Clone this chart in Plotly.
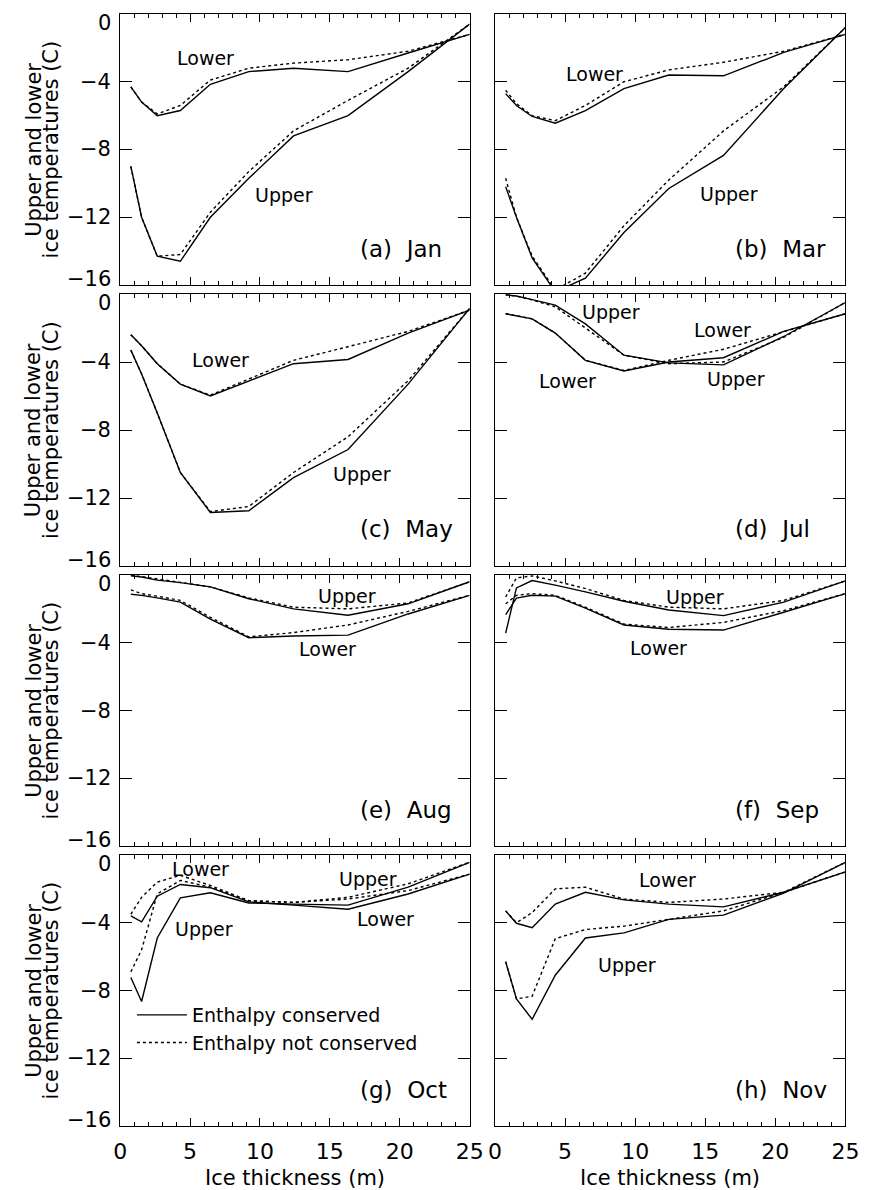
import plotly.graph_objects as go

# ---------------- data ----------------
THICK = [0.76, 1.53, 2.65, 4.3, 6.45, 9.2, 12.4, 16.3, 20.6, 25.0]

PANELS = ["(a)", "(b)", "(c)", "(d)", "(e)", "(f)", "(g)", "(h)"]
MONTHS = ["Jan", "Mar", "May", "Jul", "Aug", "Sep", "Oct", "Nov"]

# upper / lower ice temperatures (C); cons = enthalpy conserved, nocons = not conserved
JAN_UPPER_CONS   = [-9.0, -12.0, -14.3, -14.6, -12.0, -9.7, -7.2, -6.0, -3.4, -0.6]
JAN_UPPER_NOCONS = [-9.0, -12.0, -14.3, -14.2, -11.7, -9.3, -6.9, -5.1, -3.2, -0.6]
JAN_LOWER_CONS   = [-4.3, -5.2, -6.0, -5.7, -4.15, -3.4, -3.2, -3.4, -2.3, -1.2]
JAN_LOWER_NOCONS = [-4.3, -5.2, -5.9, -5.4, -3.9, -3.2, -2.9, -2.7, -2.2, -1.2]

MAR_UPPER_CONS   = [-10.2, -12.0, -14.4, -16.4, -15.6, -12.9, -10.3, -8.35, -4.4, -0.8]
MAR_UPPER_NOCONS = [-9.7, -12.0, -14.3, -16.3, -15.3, -12.5, -9.8, -6.9, -4.3, -0.8]
MAR_LOWER_CONS   = [-4.7, -5.4, -6.05, -6.45, -5.7, -4.4, -3.6, -3.65, -2.27, -1.2]
MAR_LOWER_NOCONS = [-4.5, -5.3, -6.0, -6.3, -5.4, -4.0, -3.3, -2.85, -2.2, -1.2]

MAY_UPPER_CONS   = [-3.3, -4.7, -7.0, -10.5, -12.85, -12.75, -10.8, -9.15, -5.3, -0.85]
MAY_UPPER_NOCONS = [-3.3, -4.7, -7.0, -10.5, -12.8, -12.5, -10.5, -8.4, -5.1, -0.85]
MAY_LOWER_CONS   = [-2.4, -3.05, -4.1, -5.3, -6.0, -5.1, -4.1, -3.85, -2.3, -0.95]
MAY_LOWER_NOCONS = [-2.4, -3.05, -4.1, -5.3, -5.95, -5.0, -3.9, -3.1, -2.2, -0.95]

JUL_UPPER_CONS   = [-0.05, -0.12, -0.33, -0.65, -1.76, -3.6, -4.05, -4.17, -2.5, -0.5]
JUL_UPPER_NOCONS = [-0.05, -0.12, -0.35, -0.75, -2.0, -3.6, -4.1, -4.0, -2.55, -0.5]
JUL_LOWER_CONS   = [-1.16, -1.3, -1.46, -2.3, -3.9, -4.53, -4.0, -3.75, -2.2, -1.16]
JUL_LOWER_NOCONS = [-1.16, -1.3, -1.46, -2.3, -3.9, -4.5, -3.9, -3.25, -2.2, -1.16]

AUG_UPPER_CONS   = [-0.05, -0.12, -0.3, -0.45, -0.7, -1.4, -2.0, -2.38, -1.7, -0.4]
AUG_UPPER_NOCONS = [0.0, -0.1, -0.25, -0.45, -0.7, -1.35, -1.9, -2.0, -1.65, -0.4]
AUG_LOWER_CONS   = [-1.14, -1.2, -1.35, -1.6, -2.6, -3.7, -3.6, -3.55, -2.3, -1.2]
AUG_LOWER_NOCONS = [-0.88, -1.1, -1.25, -1.5, -2.5, -3.65, -3.4, -2.95, -2.15, -1.2]

SEP_UPPER_CONS   = [-3.43, -0.76, -0.33, -0.6, -1.0, -1.55, -2.07, -2.4, -1.6, -0.35]
SEP_UPPER_NOCONS = [-1.3, -0.17, -0.05, -0.35, -0.8, -1.5, -1.9, -2.0, -1.5, -0.35]
SEP_LOWER_CONS   = [-2.34, -1.36, -1.2, -1.25, -1.95, -2.95, -3.2, -3.25, -2.2, -1.1]
SEP_LOWER_NOCONS = [-1.7, -1.2, -1.1, -1.2, -1.9, -2.9, -3.1, -2.8, -2.1, -1.1]

OCT_UPPER_CONS   = [-7.23, -8.65, -4.9, -2.53, -2.23, -2.83, -2.9, -2.96, -1.9, -0.43]
OCT_UPPER_NOCONS = [-6.9, -5.6, -2.3, -1.5, -1.9, -2.7, -2.8, -2.5, -1.7, -0.43]
OCT_LOWER_CONS   = [-3.6, -3.95, -2.43, -1.74, -1.93, -2.77, -2.96, -3.2, -2.3, -1.13]
OCT_LOWER_NOCONS = [-3.5, -2.5, -1.6, -1.2, -1.8, -2.7, -2.8, -2.6, -2.1, -1.13]

NOV_UPPER_CONS   = [-6.3, -8.5, -9.7, -7.1, -4.9, -4.6, -3.8, -3.55, -2.25, -0.43]
NOV_UPPER_NOCONS = [-6.3, -8.5, -8.34, -4.94, -4.4, -4.2, -3.8, -3.3, -2.2, -0.43]
NOV_LOWER_CONS   = [-3.3, -4.03, -4.29, -2.9, -2.2, -2.65, -2.9, -3.06, -2.2, -1.0]
NOV_LOWER_NOCONS = [-3.3, -4.0, -3.4, -2.0, -1.9, -2.6, -2.8, -2.6, -2.2, -1.0]

SERIES = [
    (JAN_UPPER_CONS, JAN_UPPER_NOCONS, JAN_LOWER_CONS, JAN_LOWER_NOCONS),
    (MAR_UPPER_CONS, MAR_UPPER_NOCONS, MAR_LOWER_CONS, MAR_LOWER_NOCONS),
    (MAY_UPPER_CONS, MAY_UPPER_NOCONS, MAY_LOWER_CONS, MAY_LOWER_NOCONS),
    (JUL_UPPER_CONS, JUL_UPPER_NOCONS, JUL_LOWER_CONS, JUL_LOWER_NOCONS),
    (AUG_UPPER_CONS, AUG_UPPER_NOCONS, AUG_LOWER_CONS, AUG_LOWER_NOCONS),
    (SEP_UPPER_CONS, SEP_UPPER_NOCONS, SEP_LOWER_CONS, SEP_LOWER_NOCONS),
    (OCT_UPPER_CONS, OCT_UPPER_NOCONS, OCT_LOWER_CONS, OCT_LOWER_NOCONS),
    (NOV_UPPER_CONS, NOV_UPPER_NOCONS, NOV_LOWER_CONS, NOV_LOWER_NOCONS),
]

LEGEND_NAMES = ["Enthalpy conserved", "Enthalpy not conserved"]
Y_TICKS = [-16, -12, -8, -4, 0]
Y_TICK_TEXT = ["\u221216", "\u221212", "\u22128", "\u22124", "0"]
X_TICKS = [0, 5, 10, 15, 20, 25]

# ---------------- layout helpers ----------------
W, H = 876, 1190
ROWS_PX = [(14, 285), (294, 566), (575, 846), (855, 1126)]
COLS_PX = [(116, 474), (500, 859)]
# vertical nudges (px) of the end y tick labels, as in the original layout
Y_LABEL_SHIFT = {0: -9, -16: 6}

# curve label annotations per panel: (text, x, y) in data units
CURVE_LABELS = [
    [("Lower", 6.1, -2.6), ("Upper", 11.7, -10.7)],
    [("Lower", 7.1, -3.55), ("Upper", 16.7, -10.6)],
    [("Lower", 7.2, -3.9), ("Upper", 17.3, -10.6)],
    [("Upper", 8.25, -1.05), ("Lower", 16.25, -2.1), ("Lower", 5.2, -5.1), ("Upper", 17.2, -5.0)],
    [("Upper", 16.2, -1.25), ("Lower", 14.8, -4.35)],
    [("Upper", 14.3, -1.27), ("Lower", 11.7, -4.3)],
    [("Lower", 5.75, -0.8), ("Upper", 17.75, -1.4), ("Upper", 6.0, -4.35), ("Lower", 19.0, -3.8)],
    [("Lower", 12.3, -1.45), ("Upper", 9.4, -6.5)],
]

FONT = "DejaVu Sans"
fig = go.Figure()
annotations = []

for i in range(8):
    r, c = divmod(i, 2)
    n = i + 1
    xa = "x" if n == 1 else f"x{n}"
    ya = "y" if n == 1 else f"y{n}"
    up_c, up_n, lo_c, lo_n = SERIES[i]
    for vals, dash, name in [(up_c, "solid", LEGEND_NAMES[0]), (up_n, "dot", LEGEND_NAMES[1]),
                              (lo_c, "solid", LEGEND_NAMES[0]), (lo_n, "dot", LEGEND_NAMES[1])]:
        fig.add_trace(go.Scatter(
            x=THICK, y=vals, mode="lines", xaxis=xa, yaxis=ya,
            line=dict(color="black", width=1.4, dash=dash),
            name=name, showlegend=False, hoverinfo="skip"))

    x0, x1 = COLS_PX[c]
    t, b = ROWS_PX[r]
    common = dict(showline=True, linecolor="black", linewidth=1.2, mirror="allticks",
                  ticks="inside", tickcolor="black", tickwidth=1.1, showgrid=False,
                  zeroline=False, tickfont=dict(family=FONT, size=22, color="black"))
    xk = "xaxis" if n == 1 else f"xaxis{n}"
    yk = "yaxis" if n == 1 else f"yaxis{n}"
    fig.layout[xk] = dict(
        domain=[x0 / W, x1 / W], anchor=ya, range=[0, 25],
        tickvals=X_TICKS, ticklen=8, showticklabels=(r == 3),
        ticklabelstandoff=5,
        minor=dict(dtick=1, ticklen=4, ticks="inside", tickcolor="black", tickwidth=1, showgrid=False),
        **common)
    fig.layout[yk] = dict(
        domain=[1 - b / H, 1 - t / H], anchor=xa, range=[-16, 0],
        tickvals=Y_TICKS, ticklen=12, showticklabels=False,
        **common)

    if c == 0:
        for v, tt in zip(Y_TICKS, Y_TICK_TEXT):
            annotations.append(dict(text=tt, x=109 / W, y=v, xref="paper", yref=ya,
                                    showarrow=False, xanchor="right", yanchor="middle",
                                    yshift=Y_LABEL_SHIFT.get(v, 0),
                                    font=dict(family=FONT, size=21, color="black")))

    for txt, lx, ly in CURVE_LABELS[i]:
        annotations.append(dict(text=txt, x=lx, y=ly, xref=xa, yref=ya, showarrow=False,
                                font=dict(family=FONT, size=19, color="black"),
                                xanchor="center", yanchor="middle"))
    annotations.append(dict(text=f"{PANELS[i]}\u00a0\u00a0{MONTHS[i]}", x=17.0, y=-13.85,
                            xref=xa, yref=ya, showarrow=False,
                            font=dict(family=FONT, size=23, color="black"),
                            xanchor="left", yanchor="middle"))

    if c == 0:
        yc = 1 - (t + b) / 2 / H
        annotations.append(dict(text="Upper and lower", x=27 / W, y=yc, xref="paper", yref="paper",
                                textangle=-90, showarrow=False, xanchor="center", yanchor="middle",
                                font=dict(family=FONT, size=21, color="black")))
        annotations.append(dict(text="ice temperatures (C)", x=45 / W, y=yc, xref="paper", yref="paper",
                                textangle=-90, showarrow=False, xanchor="center", yanchor="middle",
                                font=dict(family=FONT, size=21, color="black")))

# legend entries (drawn by plotly's legend)
fig.add_trace(go.Scatter(x=[None], y=[None], mode="lines", xaxis="x7", yaxis="y7",
                         line=dict(color="black", width=1.4, dash="solid"),
                         name=LEGEND_NAMES[0], showlegend=True))
fig.add_trace(go.Scatter(x=[None], y=[None], mode="lines", xaxis="x7", yaxis="y7",
                         line=dict(color="black", width=1.4, dash="dot"),
                         name=LEGEND_NAMES[1], showlegend=True))

# x-axis titles
for c in range(2):
    x0, x1 = COLS_PX[c]
    annotations.append(dict(text="Ice thickness (m)", x=(x0 + x1) / 2 / W, y=1 - 1178 / H,
                            xref="paper", yref="paper", showarrow=False,
                            xanchor="center", yanchor="middle",
                            font=dict(family=FONT, size=21, color="black")))

fig.update_layout(
    width=W, height=H, margin=dict(l=0, r=0, t=0, b=0),
    paper_bgcolor="white", plot_bgcolor="white",
    annotations=annotations,
    showlegend=True,
    legend=dict(x=128 / W, y=1 - 996 / H, xanchor="left", yanchor="top",
                bgcolor="rgba(0,0,0,0)", font=dict(family=FONT, size=19, color="black"),
                itemwidth=50, tracegroupgap=0),
)

fig.write_html("out.html")
